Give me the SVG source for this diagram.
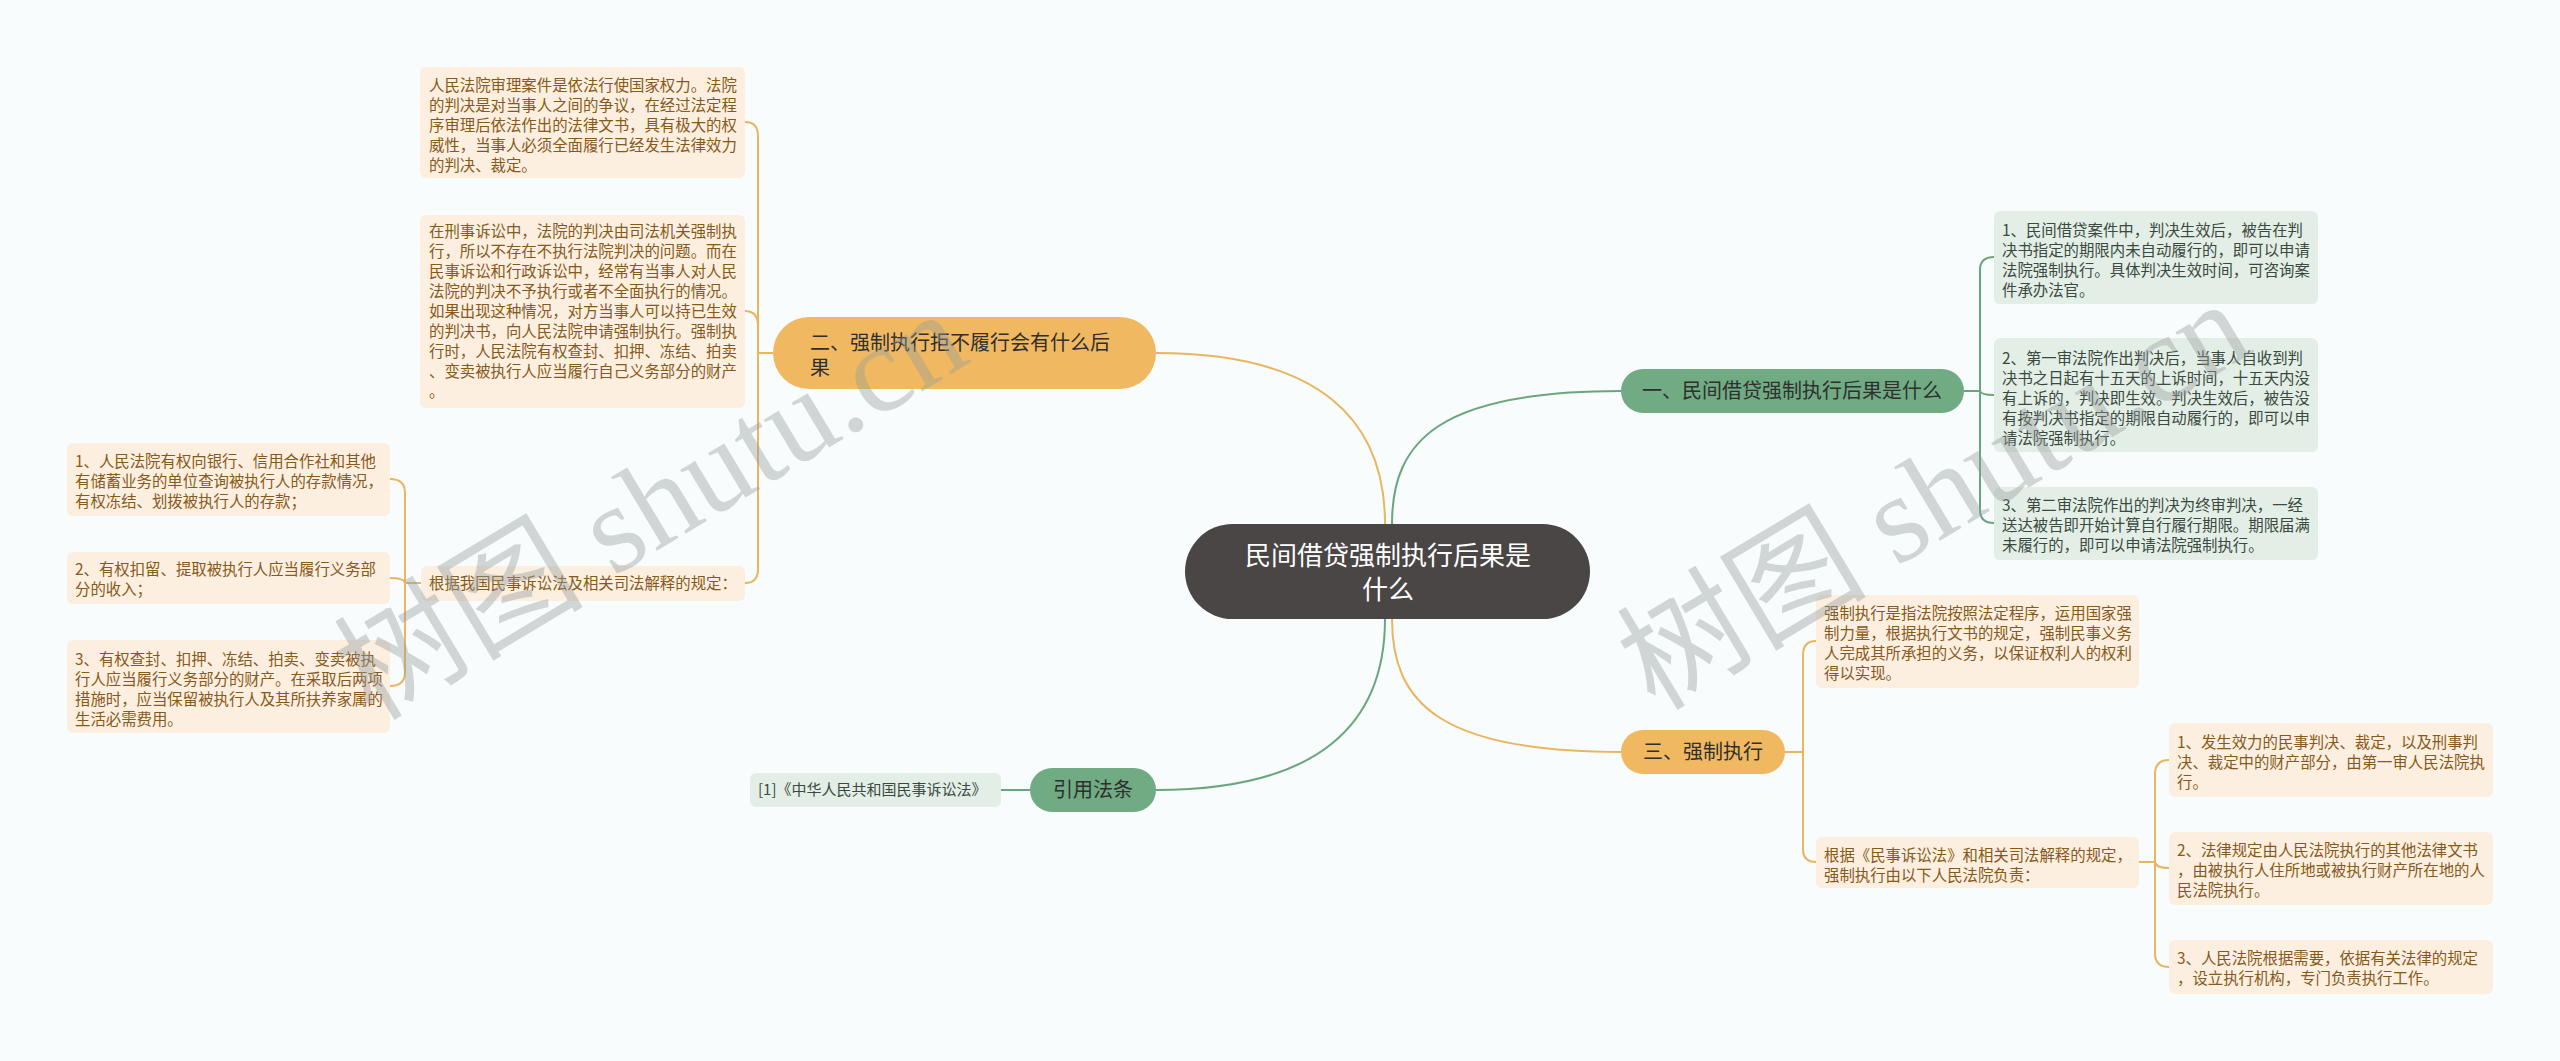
<svg xmlns="http://www.w3.org/2000/svg" width="2560" height="1061" viewBox="0 0 2560 1061">
<style>
.bg{fill:#f8fcfc}
.lo{fill:none;stroke:#e9b55f;stroke-width:2}
.lg{fill:none;stroke:#6aa67d;stroke-width:2}
.root{fill:#4b4646}
.bo{fill:#f0b961}
.bg2{fill:#70ab83}
.po{fill:#fcefdf}
.pg{fill:#e3eee7}
text{font-family:"Noto Sans CJK SC","Noto Sans",sans-serif}
.rt{fill:#ffffff;font-size:26px}
.bt{fill:#2f2f2f;font-size:20px}
.to{fill:#87591b;font-size:15.4px}
.tg{fill:#3b4a40;font-size:15.4px}
.wm{font-family:"Liberation Serif","Noto Sans CJK SC",serif;font-size:125px;fill:#969c9c;opacity:0.4}
</style>
<rect class="bg" x="0" y="0" width="2560" height="1061"/>

<g id="connectors">
  <path class="lg" d="M1392 524 C1392 440 1440 391 1621 391"/>
  <path class="lo" d="M1392 619 C1392 703 1440 752 1621 752"/>
  <path class="lo" d="M1385 524 C1385 420 1320 353 1156 353"/>
  <path class="lg" d="M1385 619 C1385 723 1320 790 1156 790"/>
  <path class="lg" d="M1964 391 H1980 V270 Q1980 257 1994 257"/>
  <path class="lg" d="M1980 391 Q1981 395 1994 395"/>
  <path class="lg" d="M1980 391 V510 Q1980 523 1994 523"/>
  <path class="lo" d="M1785 752 H1803 V655 Q1803 641 1816 641"/>
  <path class="lo" d="M1803 752 V849 Q1803 862 1816 862"/>
  <path class="lo" d="M2139 862 H2155 V774 Q2155 760 2169 760"/>
  <path class="lo" d="M2155 862 Q2156 868 2169 868"/>
  <path class="lo" d="M2155 862 V953 Q2155 967 2169 967"/>
  <path class="lo" d="M773 353 H758 V136 Q758 122 745 122"/>
  <path class="lo" d="M758 353 V326 Q758 311 745 311"/>
  <path class="lo" d="M758 353 V569 Q758 583 745 583"/>
  <path class="lo" d="M421 583 H405 V493 Q405 479 390 479"/>
  <path class="lo" d="M405 583 Q404 578 390 578"/>
  <path class="lo" d="M405 583 V672 Q405 686 390 686"/>
  <path class="lg" d="M1030 790 H1001"/>
</g>

<g id="root">
  <rect class="root" x="1185" y="524" width="405" height="95" rx="47.5"/>
  <text class="rt" text-anchor="middle"><tspan x="1388" y="565">民间借贷强制执行后果是</tspan><tspan x="1388" y="599">什么</tspan></text>
</g>

<g id="b1">
  <rect class="bg2" x="1621" y="369" width="343" height="44" rx="22"/>
  <text class="bt" x="1792" y="398" text-anchor="middle">一、民间借贷强制执行后果是什么</text>
</g>
<g id="b1-1">
  <rect class="pg" x="1994" y="211" width="324" height="93" rx="6"/>
  <text class="tg"><tspan x="2002" y="236">1、民间借贷案件中，判决生效后，被告在判</tspan><tspan x="2002" y="256">决书指定的期限内未自动履行的，即可以申请</tspan><tspan x="2002" y="276">法院强制执行。具体判决生效时间，可咨询案</tspan><tspan x="2002" y="296">件承办法官。</tspan></text>
</g>
<g id="b1-2">
  <rect class="pg" x="1994" y="338" width="324" height="114" rx="6"/>
  <text class="tg"><tspan x="2002" y="364">2、第一审法院作出判决后，当事人自收到判</tspan><tspan x="2002" y="384">决书之日起有十五天的上诉时间，十五天内没</tspan><tspan x="2002" y="404">有上诉的，判决即生效。判决生效后，被告没</tspan><tspan x="2002" y="424">有按判决书指定的期限自动履行的，即可以申</tspan><tspan x="2002" y="444">请法院强制执行。</tspan></text>
</g>
<g id="b1-3">
  <rect class="pg" x="1994" y="487" width="324" height="73" rx="6"/>
  <text class="tg"><tspan x="2002" y="511">3、第二审法院作出的判决为终审判决，一经</tspan><tspan x="2002" y="531">送达被告即开始计算自行履行期限。期限届满</tspan><tspan x="2002" y="551">未履行的，即可以申请法院强制执行。</tspan></text>
</g>

<g id="b3">
  <rect class="bo" x="1621" y="730" width="164" height="44" rx="22"/>
  <text class="bt" x="1703" y="759" text-anchor="middle">三、强制执行</text>
</g>
<g id="b3-1">
  <rect class="po" x="1816" y="595" width="323" height="93" rx="6"/>
  <text class="to"><tspan x="1824" y="619">强制执行是指法院按照法定程序，运用国家强</tspan><tspan x="1824" y="639">制力量，根据执行文书的规定，强制民事义务</tspan><tspan x="1824" y="659">人完成其所承担的义务，以保证权利人的权利</tspan><tspan x="1824" y="679">得以实现。</tspan></text>
</g>
<g id="b3-2">
  <rect class="po" x="1816" y="837" width="323" height="51" rx="6"/>
  <text class="to"><tspan x="1824" y="861">根据《民事诉讼法》和相关司法解释的规定，</tspan><tspan x="1824" y="881">强制执行由以下人民法院负责：</tspan></text>
</g>
<g id="b3-2-1">
  <rect class="po" x="2169" y="723" width="324" height="74" rx="6"/>
  <text class="to"><tspan x="2177" y="748">1、发生效力的民事判决、裁定，以及刑事判</tspan><tspan x="2177" y="768">决、裁定中的财产部分，由第一审人民法院执</tspan><tspan x="2177" y="788">行。</tspan></text>
</g>
<g id="b3-2-2">
  <rect class="po" x="2169" y="832" width="324" height="73" rx="6"/>
  <text class="to"><tspan x="2177" y="856">2、法律规定由人民法院执行的其他法律文书</tspan><tspan x="2177" y="876">，由被执行人住所地或被执行财产所在地的人</tspan><tspan x="2177" y="896">民法院执行。</tspan></text>
</g>
<g id="b3-2-3">
  <rect class="po" x="2169" y="940" width="324" height="54" rx="6"/>
  <text class="to"><tspan x="2177" y="964">3、人民法院根据需要，依据有关法律的规定</tspan><tspan x="2177" y="984">，设立执行机构，专门负责执行工作。</tspan></text>
</g>

<g id="b2">
  <rect class="bo" x="773" y="317" width="383" height="72" rx="36"/>
  <text class="bt"><tspan x="810" y="350">二、强制执行拒不履行会有什么后</tspan><tspan x="810" y="375">果</tspan></text>
</g>
<g id="b2-1">
  <rect class="po" x="420" y="67" width="325" height="111" rx="6"/>
  <text class="to"><tspan x="429" y="91">人民法院审理案件是依法行使国家权力。法院</tspan><tspan x="429" y="111">的判决是对当事人之间的争议，在经过法定程</tspan><tspan x="429" y="131">序审理后依法作出的法律文书，具有极大的权</tspan><tspan x="429" y="151">威性，当事人必须全面履行已经发生法律效力</tspan><tspan x="429" y="171">的判决、裁定。</tspan></text>
</g>
<g id="b2-2">
  <rect class="po" x="420" y="215" width="325" height="193" rx="6"/>
  <text class="to"><tspan x="429" y="237">在刑事诉讼中，法院的判决由司法机关强制执</tspan><tspan x="429" y="257">行，所以不存在不执行法院判决的问题。而在</tspan><tspan x="429" y="277">民事诉讼和行政诉讼中，经常有当事人对人民</tspan><tspan x="429" y="297">法院的判决不予执行或者不全面执行的情况。</tspan><tspan x="429" y="317">如果出现这种情况，对方当事人可以持已生效</tspan><tspan x="429" y="337">的判决书，向人民法院申请强制执行。强制执</tspan><tspan x="429" y="357">行时，人民法院有权查封、扣押、冻结、拍卖</tspan><tspan x="429" y="377">、变卖被执行人应当履行自己义务部分的财产</tspan><tspan x="429" y="397">。</tspan></text>
</g>
<g id="b2-3">
  <rect class="po" x="421" y="566" width="324" height="35" rx="6"/>
  <text class="to" x="429" y="589">根据我国民事诉讼法及相关司法解释的规定：</text>
</g>
<g id="b2-3-1">
  <rect class="po" x="67" y="443" width="323" height="73" rx="6"/>
  <text class="to"><tspan x="75" y="467">1、人民法院有权向银行、信用合作社和其他</tspan><tspan x="75" y="487">有储蓄业务的单位查询被执行人的存款情况，</tspan><tspan x="75" y="507">有权冻结、划拨被执行人的存款；</tspan></text>
</g>
<g id="b2-3-2">
  <rect class="po" x="67" y="552" width="323" height="52" rx="6"/>
  <text class="to"><tspan x="75" y="575">2、有权扣留、提取被执行人应当履行义务部</tspan><tspan x="75" y="595">分的收入；</tspan></text>
</g>
<g id="b2-3-3">
  <rect class="po" x="67" y="640" width="323" height="93" rx="6"/>
  <text class="to"><tspan x="75" y="665">3、有权查封、扣押、冻结、拍卖、变卖被执</tspan><tspan x="75" y="685">行人应当履行义务部分的财产。在采取后两项</tspan><tspan x="75" y="705">措施时，应当保留被执行人及其所扶养家属的</tspan><tspan x="75" y="725">生活必需费用。</tspan></text>
</g>

<g id="b4">
  <rect class="bg2" x="1030" y="768" width="126" height="44" rx="22"/>
  <text class="bt" x="1093" y="797" text-anchor="middle">引用法条</text>
</g>
<g id="b4-1">
  <rect class="pg" x="750" y="773" width="251" height="34" rx="6"/>
  <text class="tg" x="758" y="795" style="font-size:15px">[1]《中华人民共和国民事诉讼法》</text>
</g>

<g id="watermarks">
  <text class="wm" transform="translate(372,722) rotate(-31)">树图 shutu.cn</text>
  <text class="wm" transform="translate(1655,712) rotate(-31)">树图 shutu.cn</text>
</g>
</svg>
